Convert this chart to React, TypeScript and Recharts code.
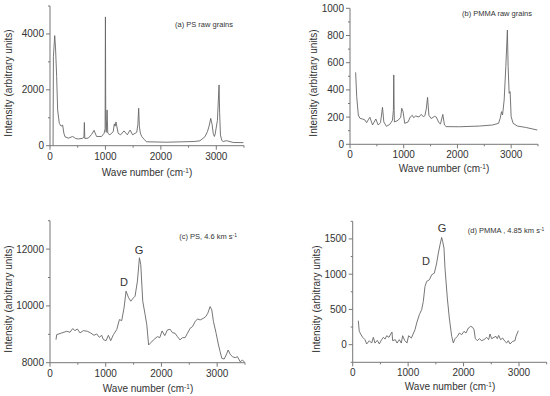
import React from 'react';
import { LineChart, Line, XAxis, YAxis } from 'recharts';

// (a) PS raw grains
const psRawWave = [55, 62, 85, 100, 120, 138, 168, 200, 228, 250, 270, 330, 410, 460, 510, 580, 612, 620, 628, 690, 750, 795, 840, 930, 975, 994, 1000, 1006, 1014, 1030, 1042, 1080, 1140, 1160, 1175, 1190, 1230, 1275, 1335, 1395, 1445, 1490, 1565, 1585, 1600, 1612, 1630, 1655, 1700, 1745, 2100, 2600, 2705, 2795, 2840, 2870, 2900, 2925, 2945, 2966, 2980, 3020, 3050, 3060, 3075, 3100, 3125, 3185, 3305, 3490];
const psRawIntensity = [0, 3200, 3940, 3500, 2480, 1280, 800, 700, 740, 450, 320, 270, 330, 260, 240, 260, 300, 830, 260, 270, 400, 550, 330, 330, 440, 600, 4610, 900, 480, 1280, 450, 390, 500, 780, 700, 850, 440, 390, 530, 390, 560, 390, 480, 750, 1340, 700, 450, 330, 220, 140, 125, 150, 175, 320, 500, 700, 980, 750, 440, 330, 420, 900, 2175, 1200, 380, 185, 150, 180, 115, 110];

// (b) PMMA raw grains
const pmmaRawWave = [105, 125, 155, 185, 240, 278, 309, 340, 370, 420, 481, 525, 568, 605, 630, 679, 741, 790, 808, 815, 822, 827, 895, 944, 963, 988, 1019, 1080, 1123, 1160, 1185, 1222, 1284, 1327, 1370, 1395, 1420, 1444, 1469, 1512, 1574, 1605, 1654, 1685, 1728, 1759, 1790, 2037, 2407, 2654, 2765, 2796, 2821, 2840, 2870, 2901, 2930, 2944, 2963, 2981, 3000, 3037, 3117, 3272, 3487];
const pmmaRawIntensity = [529, 350, 215, 191, 185, 179, 159, 180, 199, 142, 186, 142, 159, 272, 164, 132, 147, 176, 250, 510, 250, 164, 176, 199, 265, 240, 154, 164, 201, 213, 196, 208, 201, 220, 201, 213, 260, 345, 213, 189, 206, 201, 159, 150, 220, 142, 130, 129, 134, 142, 154, 191, 240, 216, 326, 571, 840, 571, 375, 387, 203, 154, 134, 124, 105];

// (c) PS, 4.6 km/s
const psShotWave = [108, 120, 210, 300, 359, 407, 449, 491, 539, 599, 671, 731, 790, 838, 886, 928, 958, 1006, 1048, 1090, 1138, 1198, 1246, 1287, 1329, 1365, 1407, 1449, 1497, 1527, 1569, 1605, 1629, 1665, 1707, 1737, 1770, 1856, 1928, 1970, 2012, 2060, 2107, 2156, 2197, 2245, 2287, 2335, 2375, 2425, 2467, 2515, 2557, 2605, 2647, 2695, 2754, 2796, 2832, 2874, 2904, 2934, 2982, 3024, 3054, 3084, 3126, 3162, 3198, 3234, 3276, 3323, 3365, 3413, 3455, 3495];
const psShotIntensity = [8812, 8988, 9047, 9106, 9071, 9200, 9129, 9188, 9047, 9129, 9106, 9047, 8965, 9012, 8894, 8965, 8812, 8776, 8965, 8776, 8988, 9165, 9518, 9482, 9929, 10518, 10306, 10165, 10282, 10341, 10871, 11694, 11459, 10165, 9694, 9341, 8624, 8800, 8918, 8882, 9118, 8953, 9153, 9176, 9059, 9035, 8918, 8800, 8882, 8882, 9035, 9212, 9270, 9447, 9541, 9506, 9565, 9624, 9741, 9976, 9859, 9447, 9035, 8624, 8388, 8153, 8129, 8271, 8447, 8294, 8212, 8176, 8212, 8035, 8094, 8010];

// (d) PMMA, 4.85 km/s
const pmmaShotWave = [101, 119, 144, 180, 222, 252, 300, 342, 372, 402, 444, 480, 522, 553, 583, 613, 655, 685, 709, 721, 769, 799, 841, 877, 901, 937, 979, 1009, 1058, 1124, 1154, 1202, 1244, 1274, 1304, 1334, 1383, 1425, 1473, 1515, 1545, 1575, 1605, 1623, 1647, 1665, 1707, 1743, 1786, 1815, 1846, 1888, 1924, 1966, 2008, 2044, 2086, 2129, 2165, 2189, 2213, 2249, 2285, 2327, 2369, 2417, 2453, 2477, 2507, 2549, 2585, 2609, 2633, 2669, 2705, 2747, 2777, 2807, 2838, 2886, 2928, 2946, 2988];
const pmmaShotIntensity = [340, 188, 151, 104, 71, 10, 56, 23, 104, 23, 61, 10, 71, 104, 80, 127, 104, 151, 179, 56, 71, 23, 71, 23, 127, 61, 23, 127, 94, 212, 307, 425, 496, 614, 826, 897, 920, 991, 1015, 1157, 1298, 1416, 1520, 1463, 1369, 1086, 661, 378, 118, 24, 85, 118, 165, 142, 189, 165, 236, 260, 245, 212, 85, 57, 85, 57, 71, 104, 71, 151, 85, 104, 118, 85, 132, 71, 94, 47, 24, 57, 10, 47, 57, 118, 198];

const waveTicks = [0, 500, 1000, 1500, 2000, 2500, 3000, 3500];
const waveLabels = [0, 1000, 2000, 3000];
const psRawTicks = [0, 1000, 2000, 3000, 4000, 5000];
const psRawLabels = [0, 2000, 4000];
const pmmaRawTicks = [0, 100, 200, 300, 400, 500, 600, 700, 800, 900, 1000];
const pmmaRawLabels = [0, 200, 400, 600, 800, 1000];
const psShotTicks = [8000, 9000, 10000, 11000, 12000, 13000];
const psShotLabels = [8000, 10000, 12000];
const pmmaShotTicks = [-250, 0, 250, 500, 750, 1000, 1250, 1500, 1750];
const pmmaShotLabels = [0, 500, 1000, 1500];

const FONT = '"Liberation Sans", Arial, sans-serif';
const AXIS = '#777';
const TEXT = '#333';

const zip = (xs: number[], ys: number[]) => xs.map((x, i) => ({ x, y: ys[i] }));

const xTick = (labels: number[]) => (props: any) => {
  const { x, y, payload } = props;
  const major = labels.includes(payload.value);
  return (
    <g>
      <line x1={x} y1={y} x2={x} y2={y + (major ? 4 : 2)} stroke={AXIS} />
      {major && (
        <text x={x} y={y + 14} textAnchor="middle" fontSize={10} fill={TEXT} fontFamily={FONT}>
          {payload.value}
        </text>
      )}
    </g>
  );
};

const yTick = (labels: number[]) => (props: any) => {
  const { x, y, payload } = props;
  const major = labels.includes(payload.value);
  return (
    <g>
      <line x1={x} y1={y} x2={x - (major ? 4 : 2)} y2={y} stroke={AXIS} />
      {major && (
        <text x={x - 6} y={y + 3.5} textAnchor="end" fontSize={10} fill={TEXT} fontFamily={FONT}>
          {payload.value}
        </text>
      )}
    </g>
  );
};

type PanelProps = {
  left: number;
  top: number;
  yWidth: number;
  xHeight: number;
  mTop: number;
  mRight: number;
  data: { x: number; y: number }[];
  yDomain: [number, number];
  yTicks: number[];
  yLabels: number[];
};

const Panel = (p: PanelProps) => (
  <div style={{ position: 'absolute', left: p.left, top: p.top }}>
    <LineChart width={275} height={198} data={p.data} margin={{ top: p.mTop, right: p.mRight, left: 0, bottom: 0 }}>
      <XAxis
        dataKey="x"
        type="number"
        domain={[0, 3500]}
        ticks={waveTicks}
        interval={0}
        height={p.xHeight}
        tickSize={0}
        tickMargin={0}
        tickLine={false}
        axisLine={{ stroke: AXIS }}
        tick={xTick(waveLabels)}
        allowDataOverflow
      />
      <YAxis
        type="number"
        domain={p.yDomain}
        ticks={p.yTicks}
        interval={0}
        width={p.yWidth}
        tickSize={0}
        tickMargin={0}
        tickLine={false}
        axisLine={{ stroke: AXIS }}
        tick={yTick(p.yLabels)}
        allowDataOverflow
      />
      <Line dataKey="y" type="linear" stroke="#666" strokeWidth={0.9} dot={false} isAnimationActive={false} />
    </LineChart>
  </div>
);

const txt = (left: number, top: number, size: number, content: React.ReactNode, rotate = false) => (
  <div
    style={{
      position: 'absolute',
      left,
      top,
      transform: `translate(-50%, -50%)${rotate ? ' rotate(-90deg)' : ''}`,
      whiteSpace: 'nowrap',
      fontSize: size,
      fontFamily: FONT,
      color: TEXT,
      lineHeight: 1,
    }}
  >
    {content}
  </div>
);

const sup = (s: string) => <span style={{ fontSize: '0.65em', verticalAlign: '0.5em' }}>{s}</span>;
const waveLabel = <>Wave number (cm{sup('-1')})</>;
const yLabel = 'Intensity (arbitrary units)';

export default function App() {
  return (
    <div style={{ position: 'absolute', left: 0, top: 0, width: 550, height: 396, background: '#fff', overflow: 'hidden' }}>
      <Panel left={0} top={0} yWidth={50} xHeight={52.3} mTop={6} mRight={31} data={zip(psRawWave, psRawIntensity)} yDomain={[0, 5000]} yTicks={psRawTicks} yLabels={psRawLabels} />
      <Panel left={275} top={0} yWidth={75} xHeight={53.7} mTop={8.3} mRight={12} data={zip(pmmaRawWave, pmmaRawIntensity)} yDomain={[0, 1000]} yTicks={pmmaRawTicks} yLabels={pmmaRawLabels} />
      <Panel left={0} top={198} yWidth={50} xHeight={33.3} mTop={22.7} mRight={30} data={zip(psShotWave, psShotIntensity)} yDomain={[8000, 13000]} yTicks={psShotTicks} yLabels={psShotLabels} />
      <Panel left={275} top={198} yWidth={77.7} xHeight={33.7} mTop={23.3} mRight={3.3} data={zip(pmmaShotWave, pmmaShotIntensity)} yDomain={[-250, 1750]} yTicks={pmmaShotTicks} yLabels={pmmaShotLabels} />

      {txt(204, 25, 7.5, '(a) PS raw grains')}
      {txt(497, 14, 7.5, '(b) PMMA raw grains')}
      {txt(208, 237, 7.5, <>(c) PS, 4.6 km s{sup('-1')}</>)}
      {txt(506, 231, 7.5, <>(d) PMMA , 4.85 km s{sup('-1')}</>)}

      {txt(124, 282, 11, 'D')}
      {txt(139, 250, 11, 'G')}
      {txt(426, 261, 11, 'D')}
      {txt(442, 228, 11, 'G')}

      {txt(147, 173, 10, waveLabel)}
      {txt(444, 169, 10, waveLabel)}
      {txt(148, 389, 10, waveLabel)}
      {txt(450, 387, 10, waveLabel)}

      {txt(9, 83, 10, yLabel, true)}
      {txt(314, 83, 10, yLabel, true)}
      {txt(9, 299, 10, yLabel, true)}
      {txt(317, 299, 10, yLabel, true)}
    </div>
  );
}
